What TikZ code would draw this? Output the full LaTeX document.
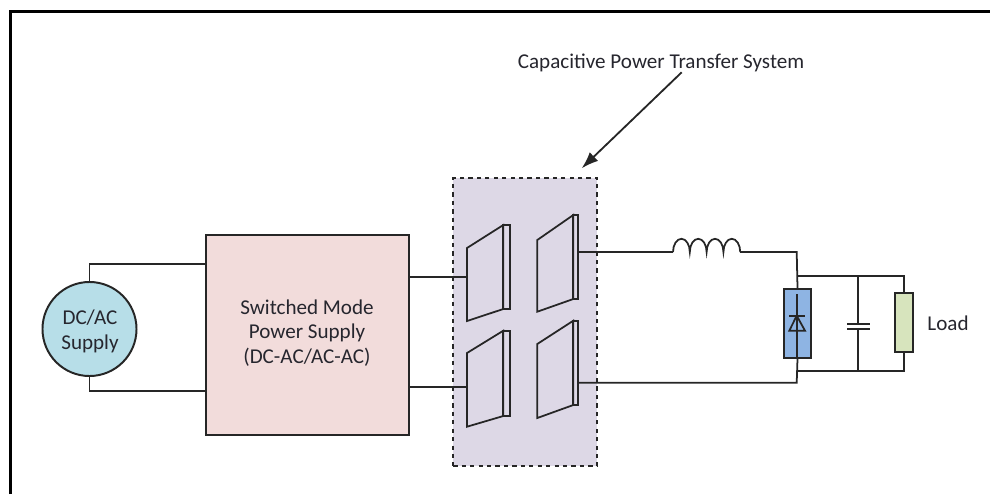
\documentclass[tikz,border=0pt]{standalone}
\usepackage{fontspec}
\setmainfont{Carlito}
\usetikzlibrary{arrows.meta}

\definecolor{smpsfill}{HTML}{F2DCDB}
\definecolor{cptfill}{HTML}{DDD8E6}
\definecolor{srcfill}{HTML}{B7DEE8}
\definecolor{diodefill}{HTML}{8EB4E3}
\definecolor{loadfill}{HTML}{D7E4BD}
\definecolor{inkdark}{HTML}{26262E}

\begin{document}
\begin{tikzpicture}[
    x=0.025cm, y=-0.025cm,
    wire/.style={line width=1.25pt, black!85},
    txt/.style={align=center, font=\fontsize{15}{17.6}\selectfont, text=inkdark, inner sep=0pt},
    blk/.style={draw=black!85, line width=1.4pt, inner sep=0pt},
    plate/.style={line width=1.25pt, black!85, line join=miter},
    arr/.style={-{Latex[length=4.2mm,width=3mm]}, line width=1.3pt, black!85}
    ]
    \useasboundingbox (0,0) rectangle (990,494);
    \draw[line width=2.15pt] (10.5,494) -- (10.5,11.5) -- (990,11.5);

    \node[blk, dashed, fill=cptfill, minimum width=3.6cm, minimum height=7.2cm] (cptbox) at (525.3,322) {};
    \node[blk, fill=smpsfill, minimum width=5.07cm, minimum height=5cm] (smps) at (307.6,335) {};
    \node[txt] (smpslabel) at (307,333) {Switched Mode\\Power Supply\\(DC-AC/AC-AC)};
    \node[blk, circle, fill=srcfill, minimum size=2.35cm] (supply) at (89.5,329) {};
    \node[txt] (supplylabel) at (90,331.5) {DC/AC\\Supply};
    \node[blk, fill=diodefill, minimum width=0.66cm, minimum height=1.72cm] (diode) at (797.5,323.3) {};
    \node[blk, fill=loadfill, minimum width=0.46cm, minimum height=1.47cm] (load) at (904,322.3) {};
    \node[txt] (loadlabel) at (948,323) {Load};
    \node[txt] (title) at (661,63) {Capacitive Power Transfer System};

    \coordinate (p1in) at (467,277);
    \coordinate (p2in) at (467,387);
    \coordinate (p1out) at (578,252);
    \coordinate (p2out) at (578,382.7);
    \coordinate (indin) at (673,252);
    \coordinate (indout) at (740,252);
    \coordinate (topnode) at (796.7,252);
    \coordinate (botnode) at (796.7,382.7);
    \coordinate (capnode1) at (858.3,324);
    \coordinate (capnode2) at (858.3,329);
    \coordinate (arrowtip) at (581.7,168.3);

    % plates
    \draw[plate] (503.3,225) -- (467,248) -- (467,321) -- (503.3,309) -- cycle;
    \draw[plate] (503.3,225) rectangle (509.7,309);
    \draw[plate] (573.3,215) -- (537.3,240) -- (537.3,311.7) -- (573.3,299) -- cycle;
    \draw[plate] (573.3,215) rectangle (577.7,299);
    \draw[plate] (503.3,330.7) -- (467,353) -- (467,426.7) -- (503.3,416) -- cycle;
    \draw[plate] (503.3,330.7) rectangle (509.7,416);
    \draw[plate] (573.3,320.7) -- (537.3,344) -- (537.3,418) -- (573.3,405) -- cycle;
    \draw[plate] (573.3,320.7) rectangle (577.7,405);

    \draw[wire] (supply.north) |- (smps.west |- 0,264);
    \draw[wire] (supply.south) |- (smps.west |- 0,390.7);
    \draw[wire] (smps.east |- p1in) -- (p1in);
    \draw[wire] (smps.east |- p2in) -- (p2in);
    \draw[wire] (p1out) -- (indin);
    \draw[wire] (indin) arc[start angle=180, end angle=0, x radius=0.21cm, y radius=0.33cm]
      arc[start angle=180, end angle=0, x radius=0.21cm, y radius=0.33cm]
      arc[start angle=180, end angle=0, x radius=0.21cm, y radius=0.33cm]
      arc[start angle=180, end angle=0, x radius=0.21cm, y radius=0.33cm];
    \draw[wire] (indout) -- (topnode) -- (diode.north);
    \draw[wire] (p2out) -- (botnode) -- (diode.south);
    \draw[wire] (796.7,275.7) -| (load.north);
    \draw[wire] (796.7,371) -| (load.south);
    \draw[wire] (858.3,275.7) -- (capnode1);
    \draw[wire] (858.3,371) -- (capnode2);
    \draw[wire] (847.3,324) -- (870,324);
    \draw[wire] (847.3,329) -- (870,329);

    % diode symbol
    \draw[wire] (796.7,294) -- (796.7,357);
    \draw[wire] (789.3,315.7) -- (805,315.7);
    \draw[wire] (796.7,315.7) -- (789.3,330.7) -- (805,330.7) -- cycle;

    \draw[arr] (title.south -| 681.7,0) -- (arrowtip);
  \end{tikzpicture}
\end{document}
